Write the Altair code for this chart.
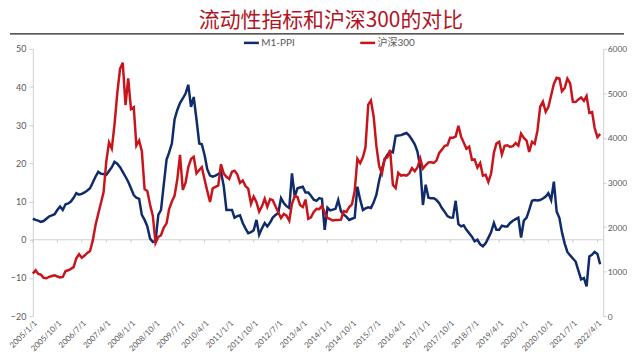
import altair as alt
import pandas as pd

# M1-PPI (left axis), monthly 2005/1 .. 2022/5
m1_ppi = [
    5.5, 5.2, 5.0, 4.7, 4.9, 5.5, 6.1, 6.4, 6.7, 7.8,
    8.7, 7.8, 9.3, 9.5, 10.0, 11.0, 12.2, 11.8, 12.0, 12.4,
    12.9, 13.5, 15.0, 16.5, 17.8, 17.3, 17.2, 17.0, 18.0, 19.0,
    20.4, 19.9, 19.0, 17.8, 16.5, 15.2, 13.5, 11.7, 11.0, 10.7,
    6.5, 5.2, 3.5, 0.3, -0.6, -0.3, 6.5, 7.8, 14.5, 21.0,
    22.8, 25.2, 31.5, 34.0, 35.8, 37.0, 38.3, 40.6, 34.8, 37.4,
    31.5, 25.2, 25.0, 22.2, 18.5, 16.8, 16.5, 16.8, 17.2, 17.8,
    14.0, 7.8, 7.8, 7.8, 5.8, 6.2, 6.4, 4.4, 3.0, 1.7,
    2.0, 2.5, 5.2, 1.3, 3.0, 4.4, 3.5, 4.5, 5.8, 6.5,
    7.0, 10.9, 9.6, 8.8, 8.3, 17.4, 11.3, 13.5, 13.7, 13.9,
    12.4, 12.4, 11.5, 10.5, 10.2, 10.9, 10.7, 2.6, 8.4, 7.7,
    7.9, 8.1, 10.4, 7.4, 6.6, 6.0, 5.2, 5.5, 5.8, 13.9,
    10.5, 7.8, 8.2, 8.5, 8.3, 9.8, 11.8, 15.5, 18.5, 21.0,
    22.3, 23.1, 22.9, 27.2, 27.3, 27.4, 27.7, 28.0, 27.3, 26.2,
    25.0, 23.1, 19.1, 9.1, 14.4, 11.0, 10.9, 10.9, 10.4, 9.6,
    8.3, 7.3, 6.2, 5.8, 5.8, 10.2, 4.1, 3.5, 3.8, 2.6,
    1.7, 0.8, -0.4, 0.0, -1.2, -1.7, -0.9, 0.5, 2.0, 4.4,
    2.6, 2.6, 3.7, 3.5, 3.5, 4.4, 5.0, 5.4, 5.8, 0.6,
    5.0, 5.8, 7.8, 10.2, 10.4, 10.3, 10.4, 10.8, 11.3, 12.2,
    10.4, 15.2, 7.4, 5.7, 2.0, -1.0, -3.2, -4.1, -4.9, -5.7,
    -8.1, -10.4, -10.0, -12.2, -4.4, -3.9, -3.2, -3.7, -6.4,
]

# 沪深300 (right axis), monthly 2005/1 .. 2022/5
hs300 = [
    955, 1030, 950, 930, 860, 850, 880, 900, 918, 890, 870, 880,
    1010, 1030, 1060, 1100, 1300, 1390, 1310, 1360, 1420, 1460, 1700, 2041,
    2300, 2550, 2780, 3480, 3900, 3760, 4300, 5000, 5550, 5690, 4739, 5338,
    4650, 4690, 3830, 3940, 3700, 2850, 2810, 2500, 2250, 1640, 1780, 1817,
    1990, 2082, 2400, 2573, 2701, 3071, 3618, 2835, 2996, 3343, 3527, 3575,
    3204, 3281, 3346, 3069, 2812, 2563, 2868, 2903, 2935, 3409, 3198, 3128,
    3077, 3240, 3264, 3183, 2990, 3044, 2920, 2860, 2522, 2684, 2556, 2346,
    2464, 2634, 2455, 2627, 2604, 2461, 2333, 2204, 2293, 2254, 2140, 2523,
    2696, 2673, 2495, 2448, 2617, 2185, 2218, 2338, 2409, 2401, 2475, 2330,
    2203, 2178, 2146, 2158, 2160, 2165, 2360, 2338, 2450, 2508, 2808, 3533,
    3434, 3572, 3786, 4749, 4841, 4473, 3816, 3366, 3203, 3534, 3566, 3731,
    2946, 2877, 3218, 3156, 3169, 3153, 3203, 3320, 3253, 3336, 3538, 3310,
    3387, 3452, 3456, 3439, 3492, 3666, 3737, 3822, 3837, 4006, 4006, 4030,
    4275, 4023, 3899, 3756, 3802, 3510, 3517, 3335, 3438, 3153, 3173, 3010,
    3201, 3669, 3872, 3913, 3629, 3825, 3835, 3799, 3814, 3886, 3828, 4097,
    3999, 3940, 3686, 3912, 3867, 4164, 4695, 4816, 4587, 4695, 4960, 5211,
    5352, 5336, 5048, 5123, 5331, 5224, 4811, 4806, 4866, 4908, 4832, 4940,
    4563, 4581, 4222, 4016, 4091,
]

series_names = ["M1-PPI", "沪深300"]
series_colors = ["#0f2b6b", "#c8151b"]
title_text = "流动性指标和沪深300的对比"
left_ticks = [-20, -10, 0, 10, 20, 30, 40, 50]
right_ticks = [0, 1000, 2000, 3000, 4000, 5000, 6000]

dates = pd.date_range("2005-01-01", periods=len(m1_ppi), freq="MS").strftime("%Y-%m-%d")
tick_dates = pd.date_range("2005-01-01", "2022-04-01", freq="9MS").strftime("%Y-%m-%d").tolist()

df_m1 = pd.DataFrame({"date": dates, "value": m1_ppi, "series": series_names[0]})
df_hs = pd.DataFrame({"date": dates, "value": hs300, "series": series_names[1]})
df_ticks = pd.DataFrame({"date": tick_dates, "value": 0.0, "bottom": -0.8})
df_zero = pd.DataFrame({"value": [0.0]})

FONT = "Lato, Noto Sans CJK SC, sans-serif"
GRAY = "#595959"
AXC = "#d0d0d0"

xscale = alt.Scale(type="utc", domain=[alt.DateTime(year=2005, month=1, date=1, utc=True),
                                       alt.DateTime(year=2022, month=6, date=4, utc=True)])
xaxis = alt.Axis(
    values=[alt.DateTime(year=int(d[:4]), month=int(d[5:7]), date=1, utc=True) for d in tick_dates],
    labelExpr="utcFormat(datum.value, '%Y/%-m/%-d')",
    labelAngle=-45, labelFontSize=8, labelColor=GRAY, labelFont=FONT, labelOverlap=False,
    domain=False, ticks=False, grid=False, title=None, labelPadding=3,
)

color = alt.Color(
    "series:N",
    scale=alt.Scale(domain=series_names, range=series_colors),
    legend=alt.Legend(
        orient="none", legendX=211, legendY=-15, direction="horizontal", title=None,
        symbolType="stroke", symbolStrokeWidth=2.5, symbolSize=225,
        labelFontSize=10, labelColor=GRAY, labelFont=FONT, columnPadding=60,
        symbolOffset=0, labelOffset=1,
    ),
)

lscale = alt.Scale(domain=[-20, 50], nice=False, zero=False)
laxis = alt.Axis(values=left_ticks, grid=False, domainColor=AXC, tickColor=AXC,
                 tickSize=4, labelFontSize=9, labelColor=GRAY, labelFont=FONT, title=None,
                 labelPadding=3, format="d")
rscale = alt.Scale(domain=[0, 6000], nice=False)
raxis = alt.Axis(orient="right", values=right_ticks, grid=False, domainColor=AXC,
                 tickColor=AXC, tickSize=3, labelFontSize=8.5, labelColor=GRAY, labelFont=FONT,
                 title=None, labelPadding=1, format="d")

m1_line = alt.Chart(df_m1).mark_line(strokeWidth=2.5).encode(
    x=alt.X("date:T", scale=xscale, axis=xaxis),
    y=alt.Y("value:Q", scale=lscale, axis=laxis),
    color=color,
)
zero_rule = alt.Chart(df_zero).mark_rule(color=AXC, strokeWidth=1).encode(
    y=alt.Y("value:Q", scale=lscale, axis=laxis)
)
tick_marks = alt.Chart(df_ticks).mark_rule(color=AXC, strokeWidth=1).encode(
    x=alt.X("date:T", scale=xscale, axis=xaxis),
    y=alt.Y("value:Q", scale=lscale, axis=laxis),
    y2="bottom:Q",
)
header_rule = alt.Chart(pd.DataFrame({"a": [0]})).mark_rule(color="#222222", strokeWidth=1.3).encode(
    x=alt.value(-23), x2=alt.value(595), y=alt.value(-15)
)

left = alt.layer(zero_rule, tick_marks, header_rule, m1_line)
hs_line = alt.Chart(df_hs).mark_line(strokeWidth=2.5).encode(
    x=alt.X("date:T", scale=xscale, axis=xaxis),
    y=alt.Y("value:Q", scale=rscale, axis=raxis),
    color=color,
)

chart = alt.layer(left, hs_line).resolve_scale(y="independent").properties(
    width=574, height=269,
    padding={"left": 0, "top": 1, "right": 0, "bottom": 0},
    title=alt.TitleParams(title_text, fontSize=21, color="#b0151f", font="Noto Sans CJK SC",
                          fontWeight="normal", anchor="middle", offset=2, frame="group", dx=13),
).configure_view(stroke=None)

chart.save("out.html", embed_options={"renderer": "svg", "actions": False})
